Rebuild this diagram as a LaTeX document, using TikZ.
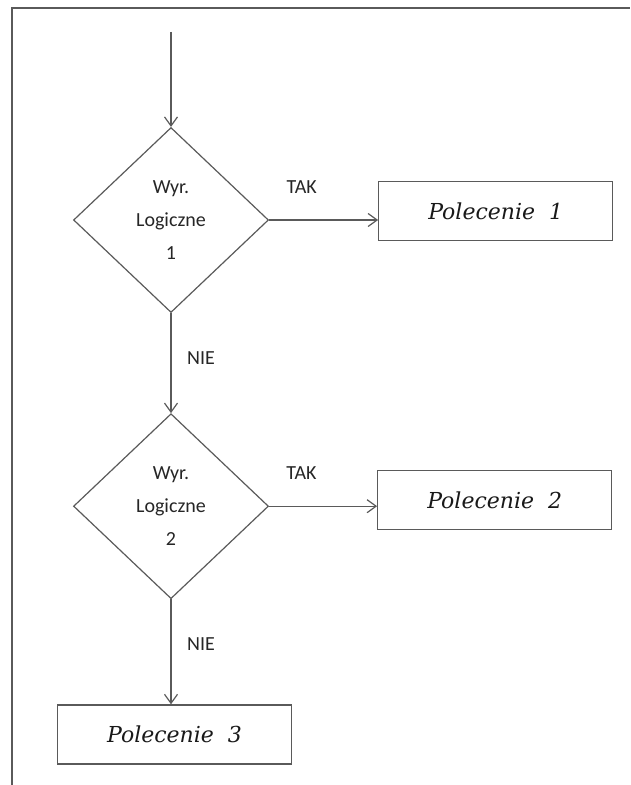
\documentclass[tikz,border=0pt]{standalone}
\usepackage{fontspec}
\setmainfont{Carlito}
\newfontfamily\polfont{DejaVu Serif}
\usepackage{tikz}
\usetikzlibrary{arrows.meta,positioning,shapes.geometric}
\definecolor{linegray}{HTML}{5A5A5A}
\definecolor{txtgray}{HTML}{262626}

\begin{document}
\begin{tikzpicture}[
  node distance=100pt,
  decision/.style={diamond,draw=linegray,line width=1.2pt,minimum width=195pt,minimum height=185pt,inner sep=0pt,align=center,font=\fontsize{20}{33}\selectfont,text=txtgray},
  command/.style={rectangle,draw=linegray,line width=1.2pt,minimum width=234pt,minimum height=59pt,font=\polfont\itshape\fontsize{22}{26}\selectfont,text=black!90},
  flow/.style={-{Straight Barb[length=9pt,width=13pt]},draw=linegray,line width=1.2pt},
  answer/.style={font=\fontsize{20}{24}\selectfont,text=txtgray}]
\useasboundingbox (0,0) rectangle (630pt,-785pt);
\draw[linegray,line width=1.2pt] (12pt,-785pt) -- (12pt,-8pt) -- (630pt,-8pt);
\node[decision] (d1) at (171pt,-220pt) {Wyr.\\Logiczne\\1};
\node[decision,below=of d1] (d2) {Wyr.\\Logiczne\\2};
\node[command,right=109pt of d1,yshift=9pt] (p1) {Polecenie\ \ 1};
\node[command,right=108pt of d2,yshift=6pt] (p2) {Polecenie\ \ 2};
\node[command,below=105pt of d2,xshift=3.5pt] (p3) {Polecenie\ \ 3};
\coordinate[above=95pt of d1] (start);
\draw[flow] (start) -- (d1.north);
\draw[flow] (d1.east) -- node[answer,pos=.3,yshift=33pt]{TAK} (d1.east -| p1.west);
\draw[flow] (d1.south) -- node[answer,pos=.45,xshift=30pt]{NIE} (d2.north);
\draw[flow] (d2.east) -- node[answer,pos=.3,yshift=33pt]{TAK} (d2.east -| p2.west);
\draw[flow] (d2.south) -- node[answer,pos=.43,xshift=30pt]{NIE} (d2.south |- p3.north);
\end{tikzpicture}
\end{document}
